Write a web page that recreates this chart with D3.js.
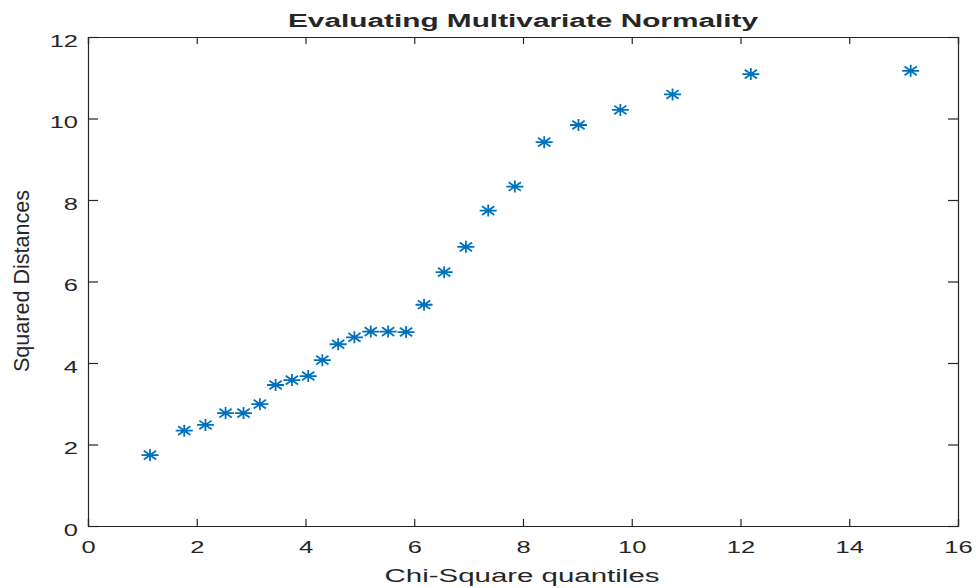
<!DOCTYPE html>
<html>
<head>
<meta charset="utf-8">
<script src="https://cdn.jsdelivr.net/npm/d3@7"></script>
<style>
    body { margin: 0; background: #fff; }
    svg { display: block; }
    text { font-family: "Liberation Sans", Arial, sans-serif; fill: #262626; }
</style>
</head>
<body>
<div id="chart"></div>
<script>
// Data: chi-square quantiles vs squared distances
const chiQuantiles = [1.14, 1.77, 2.16, 2.53, 2.86, 3.16, 3.45, 3.75, 4.05, 4.31, 4.60, 4.90, 5.20,
    5.52, 5.85, 6.18, 6.55, 6.95, 7.36, 7.85, 8.39, 9.02, 9.79, 10.75, 12.19, 15.13];
const squaredDistances = [1.74, 2.34, 2.48, 2.77, 2.77, 2.99, 3.46, 3.58, 3.68, 4.07, 4.46, 4.63, 4.77,
    4.77, 4.76, 5.43, 6.23, 6.85, 7.74, 8.33, 9.42, 9.84, 10.21, 10.59, 11.09, 11.17];
const xTicks = [0, 2, 4, 6, 8, 10, 12, 14, 16];
const yTicks = [0, 2, 4, 6, 8, 10, 12];

const titleText = "Evaluating Multivariate Normality";
const xLabelText = "Chi-Square quantiles";
const yLabelText = "Squared Distances";

// Mått
const svgWidth = 976;
const svgHeight = 588;
const plotLeft = 88, plotRight = 958, plotTop = 37, plotBottom = 526;
const stretch = 1.5;   // bilden är utdragen i x-led
const axisColor = "#262626";
const markerColor = "#0072BD";

const svg = d3.select("#chart")
    .append("svg")
    .attr("width", svgWidth)
    .attr("height", svgHeight);

const xScale = d3.scaleLinear().domain([0, 16]).range([plotLeft, plotRight]);
const yScale = d3.scaleLinear().domain([0, 12]).range([plotBottom, plotTop]);

// axlar (ticks inåt, som i MATLAB)
const xAxis = svg.append("g")
    .attr("transform", `translate(0, ${plotBottom})`)
    .call(d3.axisBottom(xScale).tickValues(xTicks).tickFormat(d3.format("d")).tickSize(-7).tickPadding(0));

const xTop = svg.append("g")
    .attr("transform", `translate(0, ${plotTop})`)
    .call(d3.axisTop(xScale).tickValues(xTicks).tickFormat("").tickSize(-7));

const yAxis = svg.append("g")
    .attr("transform", `translate(${plotLeft}, 0)`)
    .call(d3.axisLeft(yScale).tickValues(yTicks).tickFormat(d3.format("d")).tickSize(-10).tickPadding(0));

const yRight = svg.append("g")
    .attr("transform", `translate(${plotRight}, 0)`)
    .call(d3.axisRight(yScale).tickValues(yTicks).tickFormat("").tickSize(-10));

[xAxis, xTop, yAxis, yRight].forEach(g => {
    g.select(".domain").attr("stroke", axisColor).attr("stroke-width", 1.2);
    g.selectAll(".tick line").attr("stroke", axisColor).attr("stroke-width", 1.2);
});

xAxis.selectAll(".tick text")
    .attr("font-size", 17)
    .attr("fill", axisColor)
    .attr("y", 15)
    .attr("dy", "0.71em")
    .attr("transform", `scale(${stretch},1)`);

yAxis.selectAll(".tick text")
    .attr("font-size", 17)
    .attr("fill", axisColor)
    .attr("x", -10 / stretch)
    .attr("dy", "0.55em")
    .attr("transform", `scale(${stretch},1)`);

// Asterisk-markör (plus + kryss), bredare än hög
const asterisk = {
    draw(context, size) {
        const r = Math.sqrt(size) / 2;
        const rx = r * 1.42, ry = r;
        const dx = rx * 0.72, dy = ry * 0.72;
        context.moveTo(-rx, 0); context.lineTo(rx, 0);
        context.moveTo(0, -ry); context.lineTo(0, ry);
        context.moveTo(-dx, -dy); context.lineTo(dx, dy);
        context.moveTo(-dx, dy); context.lineTo(dx, -dy);
    }
};

const points = chiQuantiles.map((x, i) => ({ x: x, y: squaredDistances[i] }));

svg.append("g")
    .selectAll("path")
    .data(points)
    .enter()
    .append("path")
    .attr("transform", d => `translate(${xScale(d.x)}, ${yScale(d.y)})`)
    .attr("d", d3.symbol().type(asterisk).size(144))
    .attr("fill", "none")
    .attr("stroke", markerColor)
    .attr("stroke-width", 1.8);

// titel och axeltitlar
svg.append("text")
    .attr("x", (plotLeft + plotRight) / 2)
    .attr("y", 27)
    .attr("text-anchor", "middle")
    .attr("font-size", 18)
    .attr("font-weight", "bold")
    .attr("fill", "#000")
    .attr("textLength", 470)
    .attr("lengthAdjust", "spacingAndGlyphs")
    .text(titleText);

svg.append("text")
    .attr("x", (plotLeft + plotRight) / 2 - 1)
    .attr("y", 582)
    .attr("text-anchor", "middle")
    .attr("font-size", 18)
    .attr("textLength", 275)
    .attr("lengthAdjust", "spacingAndGlyphs")
    .text(xLabelText);

svg.append("text")
    .attr("transform", `translate(29, 281) rotate(-90) scale(1, 1.25)`)
    .attr("text-anchor", "middle")
    .attr("font-size", 17)
    .attr("textLength", 182)
    .attr("lengthAdjust", "spacingAndGlyphs")
    .text(yLabelText);
</script>
</body>
</html>
